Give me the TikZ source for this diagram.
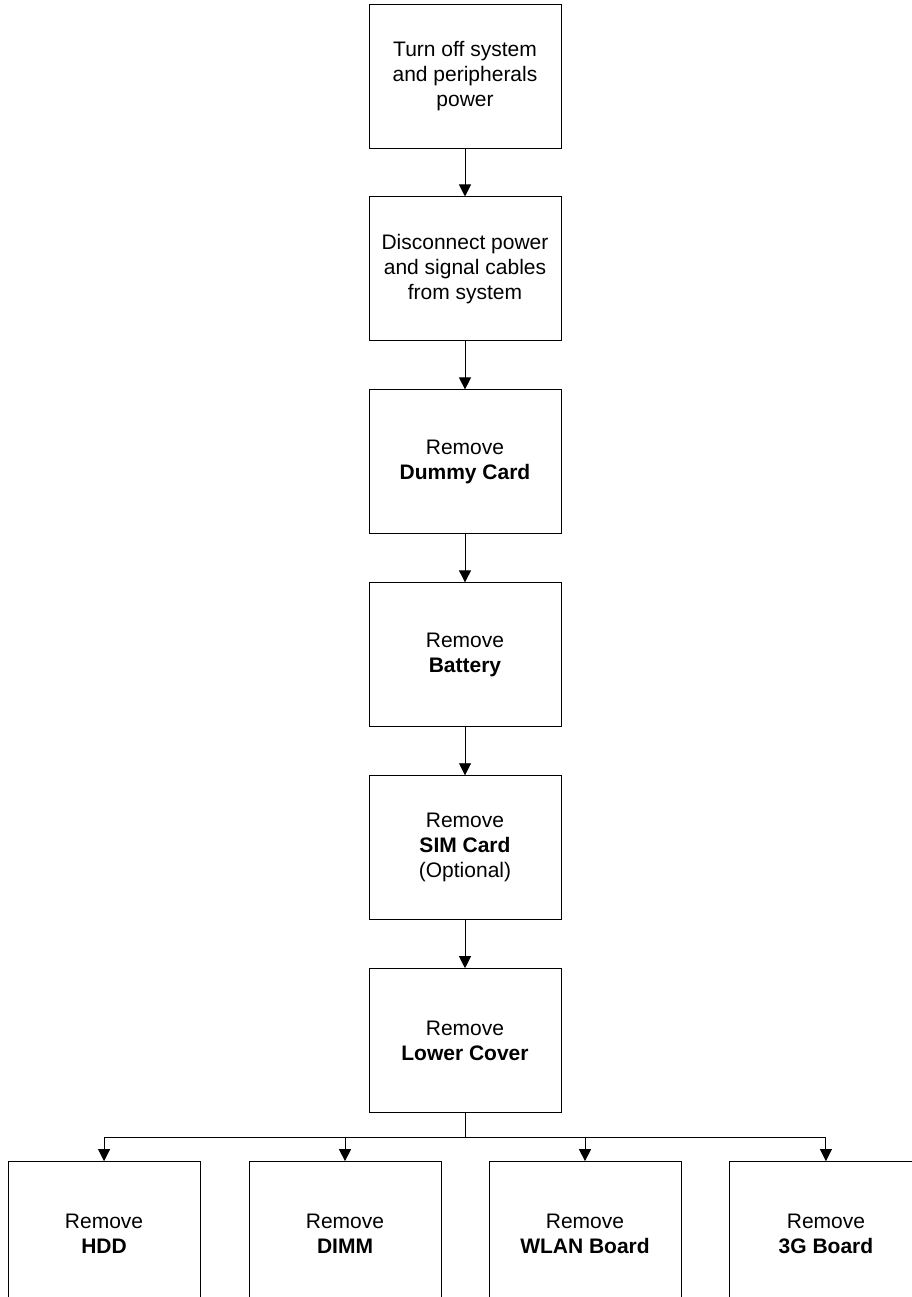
\documentclass[tikz,border=0pt]{standalone}
\usepackage{fontspec}
\setmainfont{Liberation Sans}
\usetikzlibrary{positioning,arrows.meta}
\begin{document}
\begin{tikzpicture}[x=0.75pt,y=-0.75pt,node distance=36pt,
        box/.style={draw,line width=0.7pt,minimum width=144pt,minimum height=108pt,inner sep=0pt,align=center,
                font=\fontsize{15.75}{18.75}\selectfont},
        arrow/.style={-{Triangle[width=9pt,length=9pt]},line width=0.7pt}]
        \useasboundingbox (0,0) rectangle (912,1297);

        \node[box] (power) at (465,76) {Turn off system\\and peripherals\\power};
        \node[box,below=of power] (cables) {Disconnect power\\and signal cables\\from system};
        \node[box,below=of cables] (dummy) {Remove\\\textbf{Dummy Card}};
        \node[box,below=of dummy] (battery) {Remove\\\textbf{Battery}};
        \node[box,below=of battery] (sim) {Remove\\\textbf{SIM Card}\\(Optional)};
        \node[box,below=of sim] (cover) {Remove\\\textbf{Lower Cover}};

        \node[box,below=of cover,xshift=-90pt] (dimm) {Remove\\\textbf{DIMM}};
        \node[box,left=of dimm] (hdd) {Remove\\\textbf{HDD}};
        \node[box,below=of cover,xshift=90pt] (wlan) {Remove\\\textbf{WLAN Board}};
        \node[box,right=of wlan] (threeg) {Remove\\\textbf{3G Board}};
        \coordinate[below=18pt of cover] (split);

        \draw [arrow] (power) -- (cables);
        \draw [arrow] (cables) -- (dummy);
        \draw [arrow] (dummy) -- (battery);
        \draw [arrow] (battery) -- (sim);
        \draw [arrow] (sim) -- (cover);
        \draw [line width=0.7pt] (cover) -- (split);
        \draw [arrow] (split) -| (hdd);
        \draw [arrow] (split) -| (dimm);
        \draw [arrow] (split) -| (wlan);
        \draw [arrow] (split) -| (threeg);
\end{tikzpicture}
\end{document}
